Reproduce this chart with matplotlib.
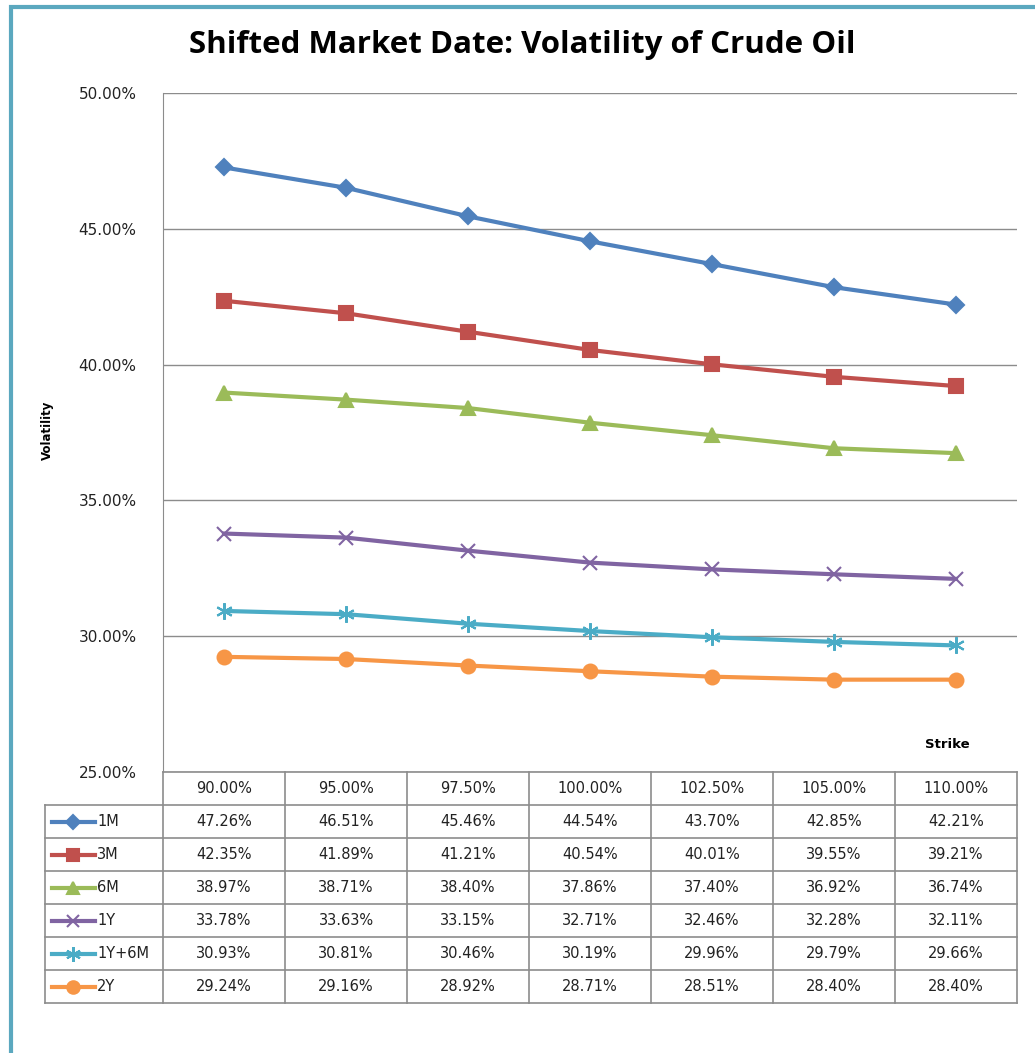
import matplotlib.pyplot as plt
from matplotlib.patches import Rectangle

plt.rcParams['font.family'] = ['DejaVu Sans']

# data
strikes = ['90.00%', '95.00%', '97.50%', '100.00%', '102.50%', '105.00%', '110.00%']
series_names = ['1M', '3M', '6M', '1Y', '1Y+6M', '2Y']
vol_1m = [47.26, 46.51, 45.46, 44.54, 43.70, 42.85, 42.21]
vol_3m = [42.35, 41.89, 41.21, 40.54, 40.01, 39.55, 39.21]
vol_6m = [38.97, 38.71, 38.40, 37.86, 37.40, 36.92, 36.74]
vol_1y = [33.78, 33.63, 33.15, 32.71, 32.46, 32.28, 32.11]
vol_1y6m = [30.93, 30.81, 30.46, 30.19, 29.96, 29.79, 29.66]
vol_2y = [29.24, 29.16, 28.92, 28.71, 28.51, 28.40, 28.40]
all_vols = [vol_1m, vol_3m, vol_6m, vol_1y, vol_1y6m, vol_2y]

colors = ['#4F81BD', '#C0504D', '#9BBB59', '#8064A2', '#4BACC6', '#F79646']
markers = ['D', 's', '^', 'x', (6, 2, 0), 'o']
msizes = [8, 10, 10, 10, 12, 10]

W, H = 1035, 1053
fig = plt.figure(figsize=(W / 100, H / 100), dpi=100)

def px_box(x0, y0, x1, y1):
    return [x0 / W, 1 - y1 / H, (x1 - x0) / W, (y1 - y0) / H]

# outer teal border
fig.patches.append(Rectangle((11 / W, -0.05), 1.2, 1 - 7 / H + 0.05, transform=fig.transFigure,
                             fill=False, edgecolor='#5BA8BF', linewidth=3))

left, right, top, bottom = 163, 1017, 93, 772
col_w = (right - left) / 7

ax = fig.add_axes(px_box(left, top, right, bottom))
xs = list(range(len(strikes)))
for vals, c, m, ms in zip(all_vols, colors, markers, msizes):
    ax.plot(xs, vals, color=c, lw=3, marker=m, ms=ms, mew=1.5, zorder=3, clip_on=False)

ax.set_xlim(-0.5, 6.5)
ax.set_ylim(25, 50)
yt = [25, 30, 35, 40, 45, 50]
ax.set_yticks(yt)
ax.set_yticklabels(['%.2f%%' % v for v in yt], fontsize=11, color='#222222')
ax.set_xticks([])
ax.grid(axis='y', color='#8C8C8C', lw=1)
ax.set_axisbelow(True)
for s in ['top', 'right', 'bottom']:
    ax.spines[s].set_visible(False)
ax.spines['left'].set_color('#8C8C8C')
ax.tick_params(axis='y', length=0, pad=19)

fig.text(0.505, 1 - 45 / H, 'Shifted Market Date: Volatility of Crude Oil', ha='center', va='center',
         fontsize=22.5, fontweight='bold', family='Open Sans')
fig.text(47 / W, 1 - 430 / H, 'Volatility', rotation=90, ha='center', va='center',
         fontsize=8.5, fontweight='bold')
fig.text(947 / W, 1 - 745 / H, 'Strike', ha='center', va='center', fontsize=9.5, fontweight='bold')

# data table under the chart
tx0, ty0, ty1 = 45, 772, 1003
tab = fig.add_axes(px_box(tx0, ty0, right, ty1))
tab.set_xlim(tx0, right)
tab.set_ylim(ty1, ty0)
tab.axis('off')
row_h = (ty1 - ty0) / 7
gc = '#8C8C8C'
for i in range(8):
    y = ty0 + i * row_h
    x_start = left if i == 0 else tx0
    tab.plot([x_start, right], [y, y], color=gc, lw=1.2, clip_on=False)
for j in range(8):
    x = left + j * col_w
    tab.plot([x, x], [ty0, ty1], color=gc, lw=1.2, clip_on=False)
tab.plot([tx0, tx0], [ty0 + row_h, ty1], color=gc, lw=1.2, clip_on=False)

for j, s in enumerate(strikes):
    tab.text(left + (j + 0.5) * col_w, ty0 + 0.5 * row_h, s, ha='center', va='center',
             fontsize=10.5, color='#222222')
for i, (name, vals, c, m, ms) in enumerate(zip(series_names, all_vols, colors, markers, msizes)):
    yc = ty0 + (i + 1.5) * row_h
    tab.plot([52, 95], [yc, yc], color=c, lw=3, clip_on=False)
    tab.plot([73], [yc], color=c, marker=m, ms=ms * 0.9, mew=1.5, clip_on=False)
    tab.text(97, yc, name, ha='left', va='center', fontsize=10.5, color='#222222')
    for j, v in enumerate(vals):
        tab.text(left + (j + 0.5) * col_w, yc, '%.2f%%' % v, ha='center', va='center',
                 fontsize=10.5, color='#222222')

fig.savefig('out.png', dpi=100)
